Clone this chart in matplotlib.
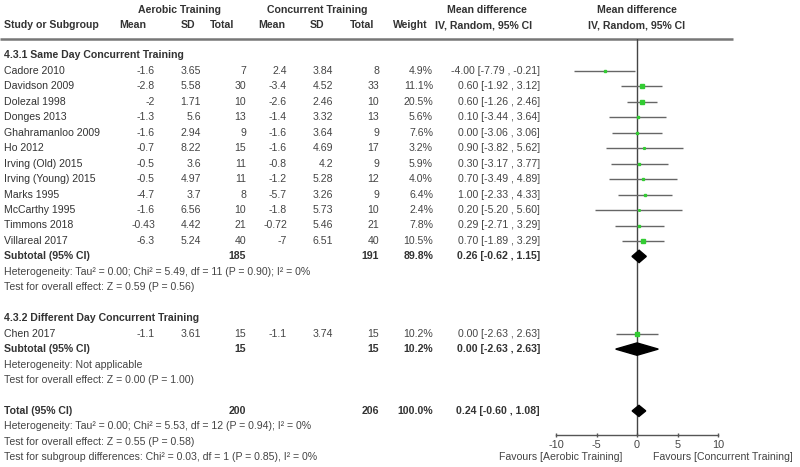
import matplotlib
matplotlib.use("Agg")
import matplotlib.pyplot as plt
import numpy as np

plt.rcParams['font.family'] = ['Liberation Sans', 'DejaVu Sans']

# ---- data ----
studies1 = ["Cadore 2010", "Davidson 2009", "Dolezal 1998", "Donges 2013", "Ghahramanloo 2009",
            "Ho 2012", "Irving (Old) 2015", "Irving (Young) 2015", "Marks 1995", "McCarthy 1995",
            "Timmons 2018", "Villareal 2017"]
ae_mean1 = [-1.6, -2.8, -2, -1.3, -1.6, -0.7, -0.5, -0.5, -4.7, -1.6, -0.43, -6.3]
ae_sd1 = [3.65, 5.58, 1.71, 5.6, 2.94, 8.22, 3.6, 4.97, 3.7, 6.56, 4.42, 5.24]
ae_n1 = [7, 30, 10, 13, 9, 15, 11, 11, 8, 10, 21, 40]
co_mean1 = [2.4, -3.4, -2.6, -1.4, -1.6, -1.6, -0.8, -1.2, -5.7, -1.8, -0.72, -7]
co_sd1 = [3.84, 4.52, 2.46, 3.32, 3.64, 4.69, 4.2, 5.28, 3.26, 5.73, 5.46, 6.51]
co_n1 = [8, 33, 10, 13, 9, 17, 9, 12, 9, 10, 21, 40]
weight1 = [4.9, 11.1, 20.5, 5.6, 7.6, 3.2, 5.9, 4.0, 6.4, 2.4, 7.8, 10.5]
md1 = [-4.00, 0.60, 0.60, 0.10, 0.00, 0.90, 0.30, 0.70, 1.00, 0.20, 0.29, 0.70]
lo1 = [-7.79, -1.92, -1.26, -3.44, -3.06, -3.82, -3.17, -3.49, -2.33, -5.20, -2.71, -1.89]
hi1 = [-0.21, 3.12, 2.46, 3.64, 3.06, 5.62, 3.77, 4.89, 4.33, 5.60, 3.29, 3.29]

studies2 = ["Chen 2017"]
ae_mean2 = [-1.1]
ae_sd2 = [3.61]
ae_n2 = [15]
co_mean2 = [-1.1]
co_sd2 = [3.74]
co_n2 = [15]
weight2 = [10.2]
md2 = [0.00]
lo2 = [-2.63]
hi2 = [2.63]

# subtotal/total: [ae_total, co_total, weight, md, lo, hi]
sub1 = [185, 191, 89.8, 0.26, -0.62, 1.15]
sub2 = [15, 15, 10.2, 0.00, -2.63, 2.63]
total = [200, 206, 100.0, 0.24, -0.60, 1.08]

het1 = "Heterogeneity: Tau\u00b2 = 0.00; Chi\u00b2 = 5.49, df = 11 (P = 0.90); I\u00b2 = 0%"
eff1 = "Test for overall effect: Z = 0.59 (P = 0.56)"
het2 = "Heterogeneity: Not applicable"
eff2 = "Test for overall effect: Z = 0.00 (P = 1.00)"
het_t = "Heterogeneity: Tau\u00b2 = 0.00; Chi\u00b2 = 5.53, df = 12 (P = 0.94); I\u00b2 = 0%"
eff_t = "Test for overall effect: Z = 0.55 (P = 0.58)"
subg = "Test for subgroup differences: Chi\u00b2 = 0.03, df = 1 (P = 0.85), I\u00b2 = 0%"

xticks = [-10, -5, 0, 5, 10]
fav_left = "Favours [Aerobic Training]"
fav_right = "Favours [Concurrent Training]"

# ---- layout ----
W, H = 800, 467
fig = plt.figure(figsize=(W / 100, H / 100), dpi=100)
ax = fig.add_axes([0, 0, 1, 1])
ax.set_xlim(0, W)
ax.set_ylim(H, 0)
ax.axis('off')

ROW0 = 71.0
DY = 15.45
def ypx(i):
    return ROW0 + (i - 1) * DY

FS = 7.6
TXT = '#333333'
NUM = '#444444'

# headers
ax.text(179, 10, "Aerobic Training", ha='center', va='center', fontsize=FS, fontweight='bold', color=TXT)
ax.text(317, 10, "Concurrent Training", ha='center', va='center', fontsize=FS, fontweight='bold', color=TXT)
ax.text(487, 10, "Mean difference", ha='center', va='center', fontsize=FS, fontweight='bold', color=TXT)
ax.text(637, 10, "Mean difference", ha='center', va='center', fontsize=FS, fontweight='bold', color=TXT)
hy = 25
ax.text(4, hy, "Study or Subgroup", ha='left', va='center', fontsize=FS, fontweight='bold', color=TXT)
for x, s in [(133, "Mean"), (188, "SD"), (222, "Total"), (272, "Mean"), (317, "SD"), (362, "Total"),
             (410, "Weight"), (484, "IV, Random, 95% CI"), (637, "IV, Random, 95% CI")]:
    ax.text(x, hy, s, ha='center', va='center', fontsize=FS, fontweight='bold', color=TXT)
ax.plot([0, 733], [39, 39], color='#777777', lw=1.8, solid_capstyle='butt')

# column right edges
C_AM, C_AS, C_AN, C_CM, C_CS, C_CN, C_W, C_CI = 155, 201, 246, 287, 333, 379, 433, 540

def fmt_ci(m, l, h):
    return f"{m:.2f} [{l:.2f} , {h:.2f}]"

def study_rows(start, names, am, asd, an, cm, csd, cn, w, m, l, h):
    for k, nm in enumerate(names):
        y = ypx(start + k)
        ax.text(4, y, nm, ha='left', va='center', fontsize=FS, color=TXT)
        for x, v in [(C_AM, am[k]), (C_AS, asd[k]), (C_AN, an[k]), (C_CM, cm[k]), (C_CS, csd[k]), (C_CN, cn[k])]:
            ax.text(x, y, f"{v:g}", ha='right', va='center', fontsize=FS, color=NUM)
        ax.text(C_W, y, f"{w[k]:.1f}%", ha='right', va='center', fontsize=FS, color=NUM)
        ax.text(C_CI, y, fmt_ci(m[k], l[k], h[k]), ha='right', va='center', fontsize=FS, color=NUM)

def summary_row(i, label, s):
    y = ypx(i)
    ax.text(4, y, label, ha='left', va='center', fontsize=FS, fontweight='bold', color=TXT)
    ax.text(C_AN, y, f"{s[0]}", ha='right', va='center', fontsize=FS, fontweight='bold', color=TXT)
    ax.text(C_CN, y, f"{s[1]}", ha='right', va='center', fontsize=FS, fontweight='bold', color=TXT)
    ax.text(C_W, y, f"{s[2]:.1f}%", ha='right', va='center', fontsize=FS, fontweight='bold', color=TXT)
    ax.text(C_CI, y, fmt_ci(s[3], s[4], s[5]), ha='right', va='center', fontsize=FS, fontweight='bold', color=TXT)

def note(i, s):
    ax.text(4, ypx(i), s, ha='left', va='center', fontsize=FS, color=NUM)

ax.text(4, ypx(0) - 0.5, "4.3.1 Same Day Concurrent Training", ha='left', va='center', fontsize=FS, fontweight='bold', color=TXT)
study_rows(1, studies1, ae_mean1, ae_sd1, ae_n1, co_mean1, co_sd1, co_n1, weight1, md1, lo1, hi1)
summary_row(13, "Subtotal (95% CI)", sub1)
note(14, het1)
note(15, eff1)
ax.text(4, ypx(17), "4.3.2 Different Day Concurrent Training", ha='left', va='center', fontsize=FS, fontweight='bold', color=TXT)
study_rows(18, studies2, ae_mean2, ae_sd2, ae_n2, co_mean2, co_sd2, co_n2, weight2, md2, lo2, hi2)
summary_row(19, "Subtotal (95% CI)", sub2)
note(20, het2)
note(21, eff2)
summary_row(23, "Total (95% CI)", total)
note(24, het_t)
note(25, eff_t)
note(26, subg)

# ---- forest axes ----
x0p, x1p = 556, 718
y_top, y_bot = 39, 435
fa = fig.add_axes([x0p / W, 1 - y_bot / H, (x1p - x0p) / W, (y_bot - y_top) / H])
fa.set_xlim(-10, 10)
i_top = (y_top - ROW0) / DY + 1
i_bot = (y_bot - ROW0) / DY + 1
fa.set_ylim(i_bot, i_top)
fa.patch.set_alpha(0)
for sp in ['top', 'left', 'right']:
    fa.spines[sp].set_visible(False)
fa.spines['bottom'].set_color('#555555')
fa.spines['bottom'].set_linewidth(1.0)
fa.set_yticks([])
fa.set_xticks(xticks)
fa.set_xticklabels([f"{t:g}" for t in xticks])
fa.tick_params(axis='x', direction='inout', length=3.5, width=1.0, color='#555555',
               labelsize=FS + 0.2, labelcolor=NUM, pad=1.5)
fa.axvline(0, color='#444444', lw=1.0)

def draw_studies(start, m, l, h, w):
    for k in range(len(m)):
        i = start + k
        fa.plot([l[k], h[k]], [i, i], color='#666666', lw=1.0, solid_capstyle='butt', clip_on=False)
        fa.plot([m[k]], [i], marker='s', ms=np.sqrt(w[k]) * 0.7, color='#33cc33', mec='#33cc33', lw=0, clip_on=False)

def diamond(i, m, l, h, half=0.4):
    fa.fill([l, m, h, m], [i, i - half, i, i + half], color='black', clip_on=False, zorder=3)

draw_studies(1, md1, lo1, hi1, weight1)
draw_studies(18, md2, lo2, hi2, weight2)
diamond(13, sub1[3], sub1[4], sub1[5])
diamond(19, sub2[3], sub2[4], sub2[5])
diamond(23, total[3], total[4], total[5], half=0.36)

ax.text(622, 457, fav_left, ha='right', va='center', fontsize=FS, color=NUM)
ax.text(653, 457, fav_right, ha='left', va='center', fontsize=FS, color=NUM)

fig.savefig("out.png", dpi=100)
